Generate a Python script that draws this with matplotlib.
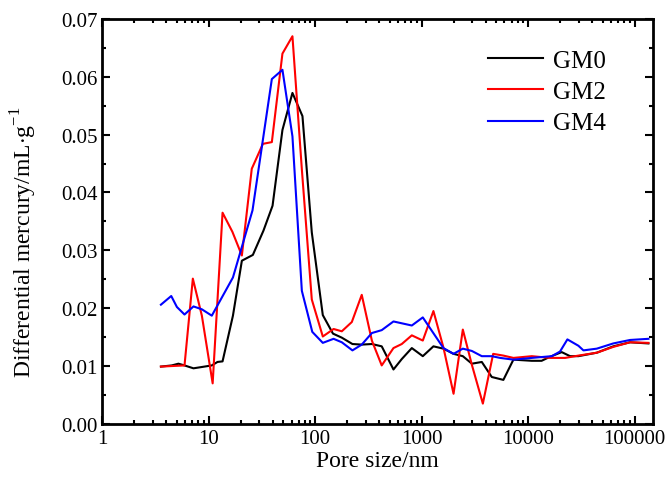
import numpy as np
import matplotlib
matplotlib.use("Agg")
import matplotlib.pyplot as plt
from matplotlib.ticker import MultipleLocator, LogLocator, FixedLocator, NullFormatter

plt.rcParams['font.family'] = ['Liberation Serif', 'DejaVu Serif']
plt.rcParams['mathtext.fontset'] = 'custom'
plt.rcParams['mathtext.rm'] = 'Liberation Serif'

# pore sizes (nm) and differential intrusion (mL/g)
gm0_x = [3.56, 4.5, 5.2, 5.93, 7.2, 10.7, 12.1, 13.5, 16.9, 20.5, 26, 32.7, 39.8, 49.3, 61.2,
         76, 93, 118, 147, 178, 224, 274, 341, 422, 544, 651, 809, 1026, 1291, 1603, 1995,
         2438, 2965, 3675, 4560, 5860, 7280, 10830, 13400, 16100, 20700, 24800, 29700,
         44200, 63100, 90700, 135000]
gm0_y = [0.0099, 0.0101, 0.0104, 0.0101, 0.0096, 0.0101, 0.0107, 0.0108, 0.0187, 0.0282,
         0.0292, 0.0334, 0.0377, 0.0508, 0.0572, 0.0532, 0.0331, 0.0188, 0.0156, 0.0149,
         0.0138, 0.0137, 0.0138, 0.0134, 0.0094, 0.0112, 0.0131, 0.0117, 0.0134, 0.0130,
         0.0121, 0.0117, 0.0104, 0.0107, 0.0081, 0.0076, 0.0111, 0.0109, 0.0109, 0.0116,
         0.0124, 0.0117, 0.0117, 0.0123, 0.0134, 0.0141, 0.0139]

gm2_x = [3.56, 5.93, 7.1, 8.63, 10.9, 13.5, 16.7, 20.5, 25.4, 32.3, 39.2, 49.3, 61.2, 75,
         93, 118, 149, 178, 221, 274, 341, 422, 544, 651, 809, 1026, 1291, 1603, 1995,
         2438, 2965, 3760, 4700, 5860, 7280, 10830, 16100, 22300, 29700, 44200, 63100,
         90700, 135000]
gm2_y = [0.0099, 0.0101, 0.0251, 0.0187, 0.0070, 0.0365, 0.0332, 0.0291, 0.0441, 0.0484,
         0.0487, 0.0640, 0.0670, 0.0440, 0.0215, 0.0151, 0.0164, 0.0160, 0.0176, 0.0223,
         0.0144, 0.0101, 0.0131, 0.0138, 0.0153, 0.0144, 0.0195, 0.0132, 0.0052, 0.0163,
         0.0102, 0.0035, 0.0121, 0.0118, 0.0114, 0.0117, 0.0114, 0.0114, 0.0118, 0.0123,
         0.0133, 0.0141, 0.0140]

gm4_x = [3.56, 4.45, 5.03, 5.93, 7.2, 8.63, 10.7, 16.9, 25.8, 39.2, 49.3, 61.2, 75, 94,
         118, 149, 178, 224, 274, 341, 422, 544, 809, 1026, 1603, 1995, 2438, 2965, 3675,
         4560, 5460, 7280, 10830, 16700, 19950, 23400, 29700, 33100, 44200, 63100, 90700,
         135000]
gm4_y = [0.0206, 0.0221, 0.0202, 0.0189, 0.0203, 0.0198, 0.0187, 0.0253, 0.0369, 0.0596,
         0.0612, 0.0497, 0.0230, 0.0159, 0.0140, 0.0147, 0.0141, 0.0127, 0.0137, 0.0157,
         0.0162, 0.0177, 0.0170, 0.0184, 0.0131, 0.0121, 0.0130, 0.0126, 0.0117, 0.0117,
         0.0114, 0.0111, 0.0114, 0.0117, 0.0125, 0.0146, 0.0135, 0.0127, 0.0130, 0.0139,
         0.0145, 0.0147]

fig = plt.figure(figsize=(6.68, 4.85), dpi=100)
ax = fig.add_axes([0.153, 0.124, 0.825, 0.835])

ax.plot(gm0_x, gm0_y, color='black', lw=1.5, label='GM0')
ax.plot(gm2_x, gm2_y, color='red', lw=1.5, label='GM2')
ax.plot(gm4_x, gm4_y, color='blue', lw=1.5, label='GM4')

ax.set_xscale('log')
ax.set_xlim(1, 150000)
ax.set_ylim(0, 0.07)
ax.xaxis.set_major_locator(FixedLocator([1, 10, 100, 1000, 10000, 100000]))
ax.set_xticklabels(['1', '10', '100', '1000', '10000', '100000'])
ax.xaxis.set_minor_locator(LogLocator(base=10, subs=np.arange(2, 10), numticks=20))
ax.xaxis.set_minor_formatter(NullFormatter())
ax.yaxis.set_major_locator(MultipleLocator(0.01))
ax.yaxis.set_minor_locator(MultipleLocator(0.005))
ax.yaxis.set_major_formatter(matplotlib.ticker.FormatStrFormatter('%.2f'))

for s in ax.spines.values():
    s.set_linewidth(2)
ax.tick_params(which='both', direction='in', top=True, right=True, labelsize=15, width=1.5)
ax.tick_params(which='major', length=6)
ax.tick_params(which='minor', length=3)

ax.set_xlabel('Pore size/nm', fontsize=17, labelpad=2)
ax.set_ylabel(r'Differential mercury/mL$\cdot$g$^{-1}$', fontsize=17)
ax.yaxis.set_label_coords(-0.115, 0.45)

ax.legend(loc='upper right', bbox_to_anchor=(0.955, 0.98), frameon=False, fontsize=18,
          handlelength=2.2, handletextpad=0.4, labelspacing=0.35)

fig.savefig('out.png', dpi=100)
